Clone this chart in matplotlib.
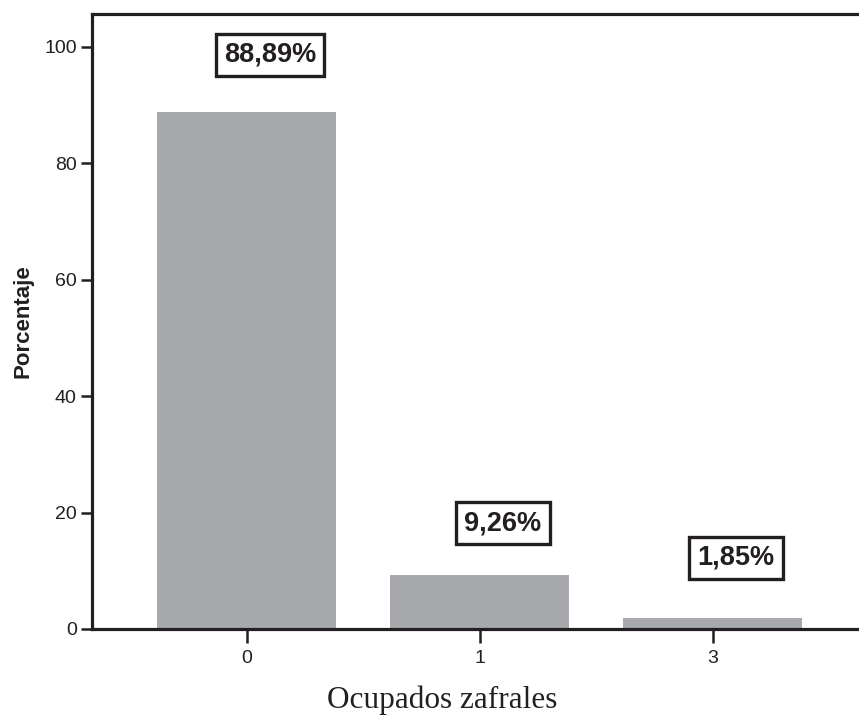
import matplotlib
matplotlib.use("Agg")
import matplotlib.pyplot as plt

categories = ["0", "1", "3"]
percentages = [88.89, 9.26, 1.85]
labels = ["88,89%", "9,26%", "1,85%"]
label_y = [98.6, 18.2, 12.2]  # where the boxed labels sit

plt.rcParams['font.family'] = ['Liberation Sans', 'DejaVu Sans']

fig = plt.figure(figsize=(8.59, 7.18), dpi=100)
ax = fig.add_axes([0.107, 0.124, 0.903, 0.857])

x = list(range(len(categories)))
ax.bar(x, percentages, width=0.77, color='#a7a9ac', zorder=2)

for xi, lab, ly in zip(x, labels, label_y):
    ax.text(xi + 0.1, ly, lab, ha='center', va='center', fontsize=19.5,
            fontweight='bold', color='#231f20',
            bbox=dict(boxstyle='square,pad=0.3', fc='white', ec='#231f20', lw=2.4))

ax.set_xlim(-0.665, 2.665)
ax.set_ylim(0, 105.7)
ax.set_xticks(x)
ax.set_xticklabels(categories)
ax.set_yticks([0, 20, 40, 60, 80, 100])

for s in ax.spines.values():
    s.set_linewidth(2.3)
    s.set_color('#231f20')

ax.tick_params(axis='both', labelsize=14, width=1.8, color='#231f20',
               labelcolor='#231f20')
ax.tick_params(axis='y', length=8, pad=3)
ax.tick_params(axis='x', length=10, pad=5)

ax.set_ylabel('Porcentaje', fontsize=16, fontweight='bold', color='#231f20')
ax.yaxis.set_label_coords(-0.075, 0.5)
ax.set_xlabel('Ocupados zafrales', fontsize=22.5, family=['Liberation Serif', 'DejaVu Serif'],
              color='#231f20')
ax.xaxis.set_label_coords(0.451, -0.092)

fig.savefig('out.png', dpi=100)
